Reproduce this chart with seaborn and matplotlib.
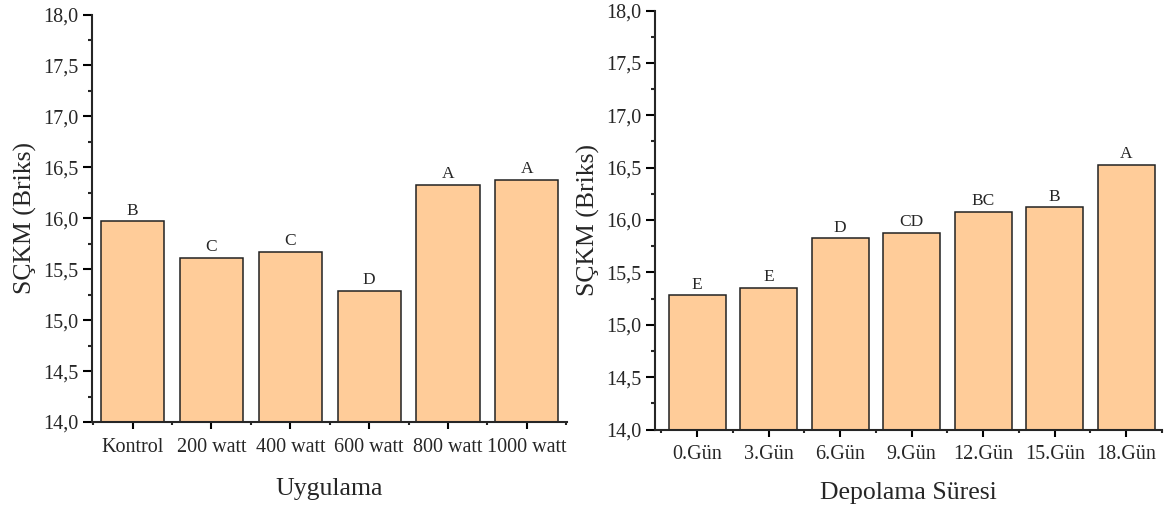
import matplotlib
matplotlib.use("Agg")
import matplotlib.pyplot as plt
import seaborn as sns
import pandas as pd
from matplotlib.ticker import MultipleLocator, FuncFormatter

# Data
uygulama = ["Kontrol", "200 watt", "400 watt", "600 watt", "800 watt", "1000 watt"]
uygulama_vals = [15.97, 15.61, 15.67, 15.29, 16.33, 16.38]
uygulama_letters = ["B", "C", "C", "D", "A", "A"]

depolama = ["0.Gün", "3.Gün", "6.Gün", "9.Gün", "12.Gün", "15.Gün", "18.Gün"]
depolama_vals = [15.28, 15.35, 15.825, 15.875, 16.08, 16.12, 16.525]
depolama_letters = ["E", "E", "D", "CD", "BC", "B", "A"]

sns.set_style("ticks")
plt.rcParams['font.family'] = ['Liberation Serif', 'DejaVu Serif']
plt.rcParams['axes.linewidth'] = 1.5

W, H = 1167, 508
fig = plt.figure(figsize=(W / 100, H / 100), dpi=100)

def px_axes(x0, y0, x1, y1):
    return fig.add_axes([x0 / W, 1 - y1 / H, (x1 - x0) / W, (y1 - y0) / H])

ax1 = px_axes(92, 14.5, 567, 422)
ax2 = px_axes(655, 10.5, 1162, 429.5)

bar_color = "#FFCC99"
fmt = FuncFormatter(lambda v, p: f"{v:.1f}".replace(".", ","))

def draw(ax, cats, vals, letters, xlabel, xlim, xlabelpad):
    df = pd.DataFrame({"cat": cats, "val": vals})
    sns.barplot(data=df, x="cat", y="val", ax=ax, color=bar_color,
                edgecolor="#222222", linewidth=1.1, width=0.8, saturation=1)
    ax.set_ylim(14.0, 18.0)
    ax.set_xlim(*xlim)
    ax.yaxis.set_major_locator(MultipleLocator(0.5))
    ax.yaxis.set_minor_locator(MultipleLocator(0.25))
    ax.yaxis.set_major_formatter(fmt)
    ax.set_xticks(range(len(cats)))
    ax.set_xticks([i + 0.5 for i in range(-1, len(cats))], minor=True)
    ax.tick_params(axis="both", which="major", labelsize=14.5, width=1.5, color="black")
    ax.tick_params(axis="y", which="major", length=6.5, pad=3)
    ax.tick_params(axis="y", which="minor", length=3.2, width=1.5)
    ax.tick_params(axis="x", which="major", length=5.3, pad=6)
    ax.tick_params(axis="x", which="minor", length=2.2, width=1.5)
    for s in ["top", "right"]:
        ax.spines[s].set_visible(False)
    ax.set_xlabel(xlabel, fontsize=18.5, labelpad=xlabelpad)
    ax.set_ylabel("SÇKM (Briks)", fontsize=18.5, labelpad=5)
    for i, (v, l) in enumerate(zip(vals, letters)):
        ax.text(i, v + 0.025, l, ha="center", va="bottom", fontsize=12.5)

draw(ax1, uygulama, uygulama_vals, uygulama_letters, "Uygulama", (-0.516, 5.51), 15)
draw(ax2, depolama, depolama_vals, depolama_letters, "Depolama Süresi", (-0.589, 6.45), 13)

fig.savefig("out.png", dpi=100)
